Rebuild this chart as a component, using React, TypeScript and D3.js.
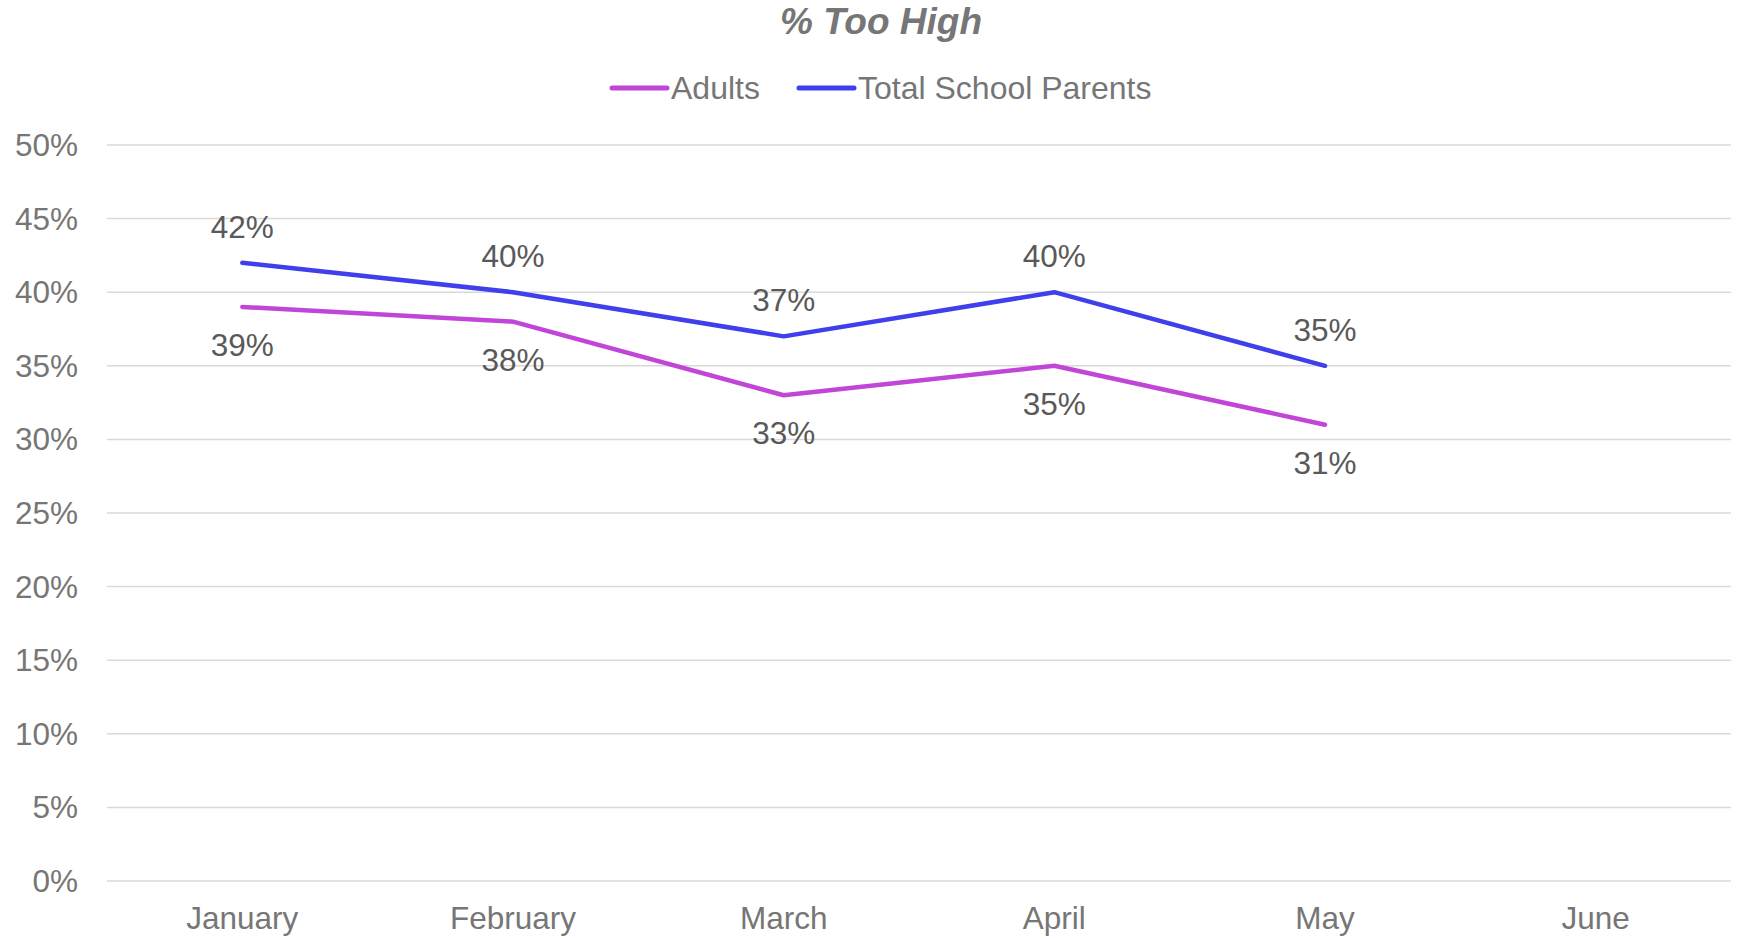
import React from "react";
import * as d3 from "d3";

const months = ["January", "February", "March", "April", "May", "June"];
const adults = [0.39, 0.38, 0.33, 0.35, 0.31];
const totalParents = [0.42, 0.4, 0.37, 0.4, 0.35];
const yTicks = [0, 0.05, 0.1, 0.15, 0.2, 0.25, 0.3, 0.35, 0.4, 0.45, 0.5];
const title = "% Too High";
const seriesNames = ["Adults", "Total School Parents"];

const W = 1742;
const H = 938;
const FONT = "'Liberation Sans', Arial, sans-serif";
const MAGENTA = "#C146D7";
const BLUE = "#3F3FEB";
const AXIS_GRAY = "#767676";
const LABEL_GRAY = "#595959";

export default function App() {
  const x = d3.scaleBand<string>().domain(months).range([107, 1731]).padding(0);
  const y = d3.scaleLinear().domain([0, 0.5]).range([881, 145]);
  const cx = (m: string) => (x(m) as number) + x.bandwidth() / 2;
  const fmt = d3.format(".0%");

  const line = d3
    .line<number>()
    .x((_, i) => cx(months[i]))
    .y((d) => y(d));

  const series = [
    { name: seriesNames[0], values: adults, color: MAGENTA, labelDy: 49 },
    { name: seriesNames[1], values: totalParents, color: BLUE, labelDy: -25 },
  ];

  const legend = [
    { name: seriesNames[0], color: MAGENTA, x0: 612, x1: 667, tx: 671 },
    { name: seriesNames[1], color: BLUE, x0: 799, x1: 854, tx: 858 },
  ];

  return (
    <svg
      width={W}
      height={H}
      style={{ position: "absolute", left: 0, top: 0, background: "#fff" }}
      fontFamily={FONT}
    >
      <rect width={W} height={H} fill="#fff" />
      <text
        x={881}
        y={34}
        textAnchor="middle"
        fontSize={37}
        fontWeight="bold"
        fontStyle="italic"
        fill={AXIS_GRAY}
      >
        {title}
      </text>
      {legend.map((l) => (
        <g key={l.name}>
          <line x1={l.x0} x2={l.x1} y1={88} y2={88} stroke={l.color} strokeWidth={5} strokeLinecap="round" />
          <text x={l.tx} y={99} fontSize={32} fill={AXIS_GRAY}>
            {l.name}
          </text>
        </g>
      ))}
      {yTicks.map((t) => (
        <g key={t}>
          <line x1={107} x2={1731} y1={y(t)} y2={y(t)} stroke="#D9D9D9" strokeWidth={1.5} />
          <text x={78} y={y(t) + 11} textAnchor="end" fontSize={31.5} fill={AXIS_GRAY}>
            {fmt(t)}
          </text>
        </g>
      ))}
      {months.map((m) => (
        <text key={m} x={cx(m)} y={929} textAnchor="middle" fontSize={31.5} fill={AXIS_GRAY}>
          {m}
        </text>
      ))}
      {series.map((s) => (
        <g key={s.name}>
          <path d={line(s.values) as string} fill="none" stroke={s.color} strokeWidth={4.5} strokeLinejoin="round" strokeLinecap="round" />
          {s.values.map((v, i) => (
            <text
              key={i}
              x={cx(months[i])}
              y={y(v) + s.labelDy}
              textAnchor="middle"
              fontSize={31.5}
              fill={LABEL_GRAY}
            >
              {fmt(v)}
            </text>
          ))}
        </g>
      ))}
    </svg>
  );
}
